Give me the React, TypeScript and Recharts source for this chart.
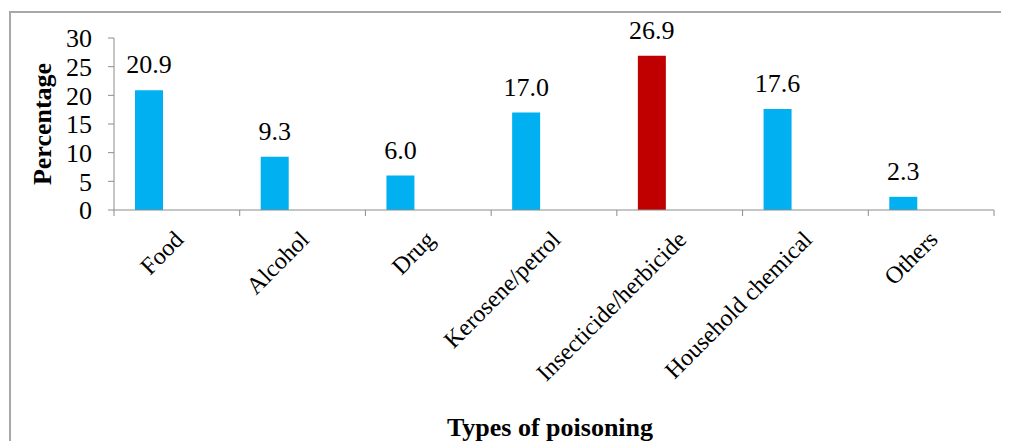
import React from 'react';
import { BarChart, Bar, XAxis, YAxis, Cell, LabelList, Label } from 'recharts';

const categories = ['Food', 'Alcohol', 'Drug', 'Kerosene/petrol', 'Insecticide/herbicide', 'Household chemical', 'Others'];
const percentages = [20.9, 9.3, 6.0, 17.0, 26.9, 17.6, 2.3];
const highlighted = 'Insecticide/herbicide';
const yTicks = [0, 5, 10, 15, 20, 25, 30];
const yLabel = 'Percentage';
const xLabel = 'Types of poisoning';

const BLUE = '#00B0F0';
const RED = '#C00000';
const AXIS = '#8c8c8c';
const FONT = '"Liberation Serif", "Times New Roman", serif';
const PLOT_WIDTH_FALLBACK = 880;

const data = categories.map((c, i) => ({ category: c, value: percentages[i], slotB: null, slotC: null }));

const CategoryTick = (props: any) => {
  const { x, y, payload, index, visibleTicksCount, width } = props;
  const count = visibleTicksCount || categories.length;
  const band = (typeof width === 'number' && width > 0 ? width : PLOT_WIDTH_FALLBACK) / count;
  const left = -band / 2;
  const right = band / 2;
  return (
    <g transform={`translate(${x},${y})`}>
      <line x1={left} y1={0} x2={left} y2={6} stroke={AXIS} strokeWidth={1} />
      {index === count - 1 && <line x1={right} y1={0} x2={right} y2={6} stroke={AXIS} strokeWidth={1} />}
      <text
        textAnchor="end"
        transform="translate(8,31) rotate(-45)"
        fontFamily={FONT}
        fontSize={24}
        fill="#000"
      >
        {payload.value}
      </text>
    </g>
  );
};

const YTitle = (props: any) => {
  const { viewBox } = props;
  const cx = viewBox.x + 34;
  const cy = viewBox.y + viewBox.height / 2;
  return (
    <text
      x={cx}
      y={cy}
      transform={`rotate(-90 ${cx} ${cy})`}
      textAnchor="middle"
      dominantBaseline="central"
      fontFamily={FONT}
      fontWeight="bold"
      fontSize={26}
      fill="#000"
    >
      {yLabel}
    </text>
  );
};

export default function App() {
  return (
    <div style={{ position: 'relative', width: 1001, height: 433, overflow: 'hidden', background: '#fff' }}>
      <div
        style={{
          position: 'absolute',
          left: 1,
          top: 3,
          width: 1100,
          height: 600,
          borderTop: '2px solid #a8a8a8',
          borderLeft: '2px solid #a8a8a8',
          boxSizing: 'border-box',
        }}
      />
      <div style={{ position: 'absolute', left: 0, top: 0 }}>
        <BarChart
          width={1001}
          height={433}
          data={data}
          margin={{ top: 30, right: 15, left: 0, bottom: 0 }}
          barGap={0}
          barSize={28}
        >
          <XAxis
            dataKey="category"
            type="category"
            height={231}
            axisLine={{ stroke: AXIS }}
            tickLine={false}
            tickSize={0}
            tickMargin={0}
            interval={0}
            tick={<CategoryTick />}
          >
            <Label
              value={xLabel}
              position="insideBottom"
              offset={5}
              dx={-4}
              style={{ fontFamily: FONT, fontWeight: 'bold', fontSize: 26, fill: '#000' }}
            />
          </XAxis>
          <YAxis
            width={106}
            domain={[0, 30]}
            ticks={yTicks}
            interval={0}
            tickSize={6}
            tickMargin={16}
            axisLine={{ stroke: AXIS }}
            tickLine={{ stroke: AXIS }}
            tick={{ fontFamily: FONT, fontSize: 26, fill: '#000' }}
            label={<YTitle />}
          />
          <Bar dataKey="value" isAnimationActive={false}>
            {data.map((d) => (
              <Cell key={d.category} fill={d.category === highlighted ? RED : BLUE} />
            ))}
            <LabelList
              dataKey="value"
              position="top"
              offset={17}
              formatter={(v: any) => Number(v).toFixed(1)}
              style={{ fontFamily: FONT, fontSize: 26, fill: '#000' }}
            />
          </Bar>
          <Bar dataKey="slotB" fill={BLUE} isAnimationActive={false} />
          <Bar dataKey="slotC" fill={BLUE} isAnimationActive={false} />
        </BarChart>
      </div>
    </div>
  );
}
